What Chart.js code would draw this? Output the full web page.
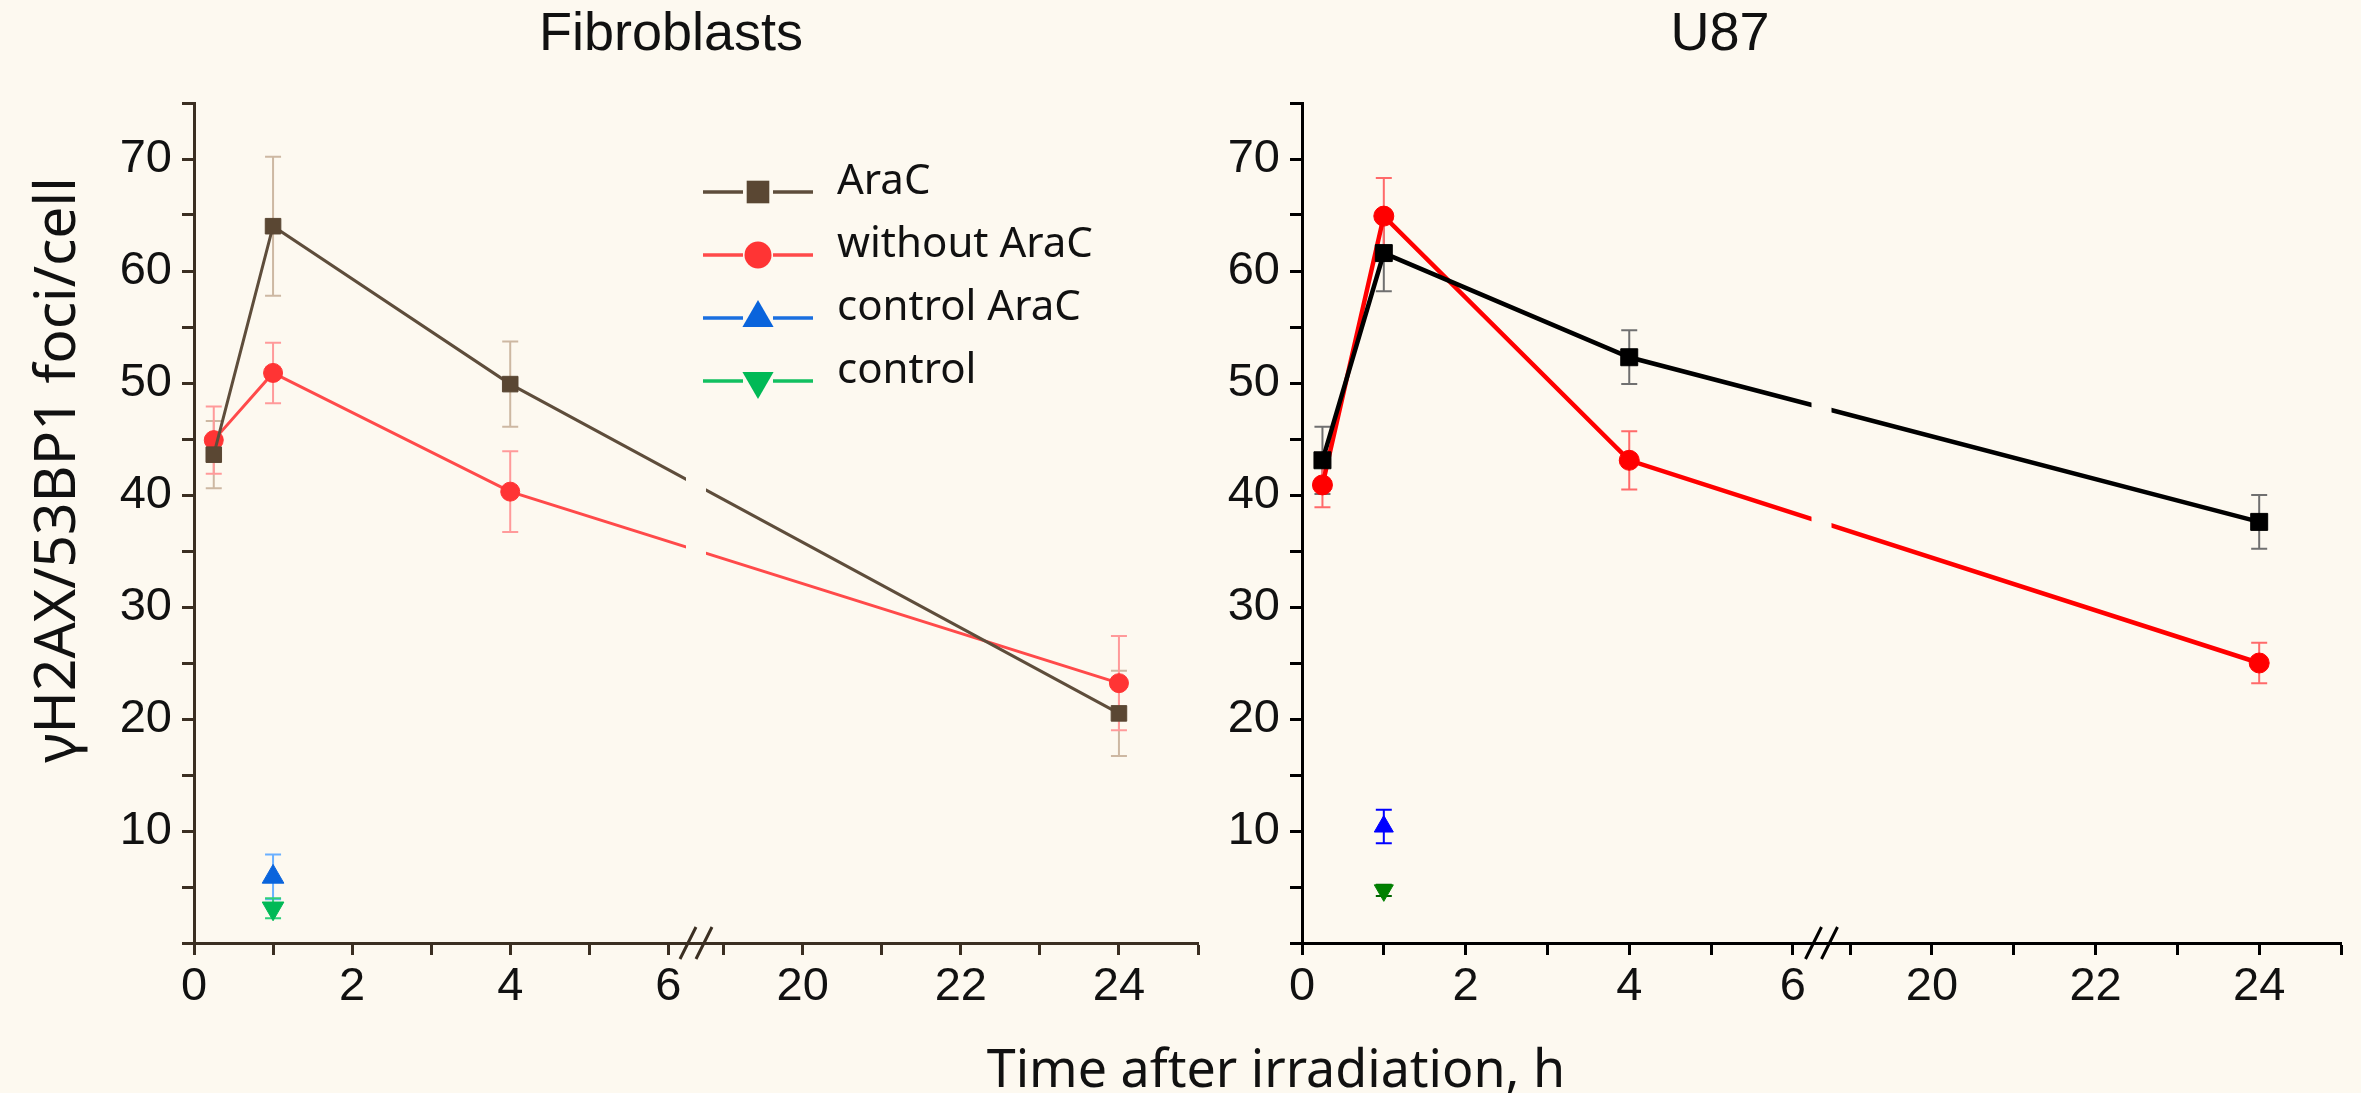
<!DOCTYPE html>
<html>
<head>
<meta charset="utf-8">
<title>γH2AX/53BP1 foci</title>
<script src="https://cdn.jsdelivr.net/npm/chart.js@4.4.1/dist/chart.umd.min.js"></script>
<style>
  body { margin: 0; background: #fdf9f0; width: 2361px; height: 1093px; position: relative; overflow: hidden; }
  canvas { position: absolute; top: 0; }
  #fibro { left: 0; }
  #u87 { left: 1190px; }
  .panel-title { position: absolute; top: 4px; font-family: 'Liberation Sans', Arial, sans-serif; font-size: 54px; line-height: 54px; color: #111; transform: translateX(-50%); white-space: nowrap; }
  .axis-title { position: absolute; font-family: 'Noto Sans', sans-serif; color: #111; white-space: nowrap; }
  #xTitle { left: 1276px; top: 1066px; font-size: 52px; transform: translate(-50%, -50%); }
  #yTitle { left: 53px; top: 470px; font-size: 57px; transform: translate(-50%, -50%) rotate(-90deg); }
</style>
</head>
<body>
<div class="panel-title" style="left:671px">Fibroblasts</div>
<div class="panel-title" style="left:1720px">U87</div>
<div class="axis-title" id="yTitle">γH2AX/53BP1 foci/cell</div>
<div class="axis-title" id="xTitle">Time after irradiation, h</div>
<canvas id="fibro" width="1230" height="1093"></canvas>
<canvas id="u87" width="1171" height="1093"></canvas>
<script>
const BG = '#fdf9f0';

// time points (h)
const hours = [0.25, 1, 4, 24];
const controlHours = [1];

// Fibroblasts
const fibroAraC = [43.6, 64.0, 49.9, 20.5];
const fibroAraCErr = [3.0, 6.2, 3.8, 3.8];
const fibroNoAraC = [44.9, 50.9, 40.3, 23.2];
const fibroNoAraCErr = [3.0, 2.7, 3.6, 4.2];
const fibroControlAraC = [5.9];
const fibroControlAraCErr = [2.0];
const fibroControl = [3.1];
const fibroControlErr = [0.9];

// U87
const u87AraC = [43.1, 61.6, 52.3, 37.6];
const u87AraCErr = [3.0, 3.4, 2.4, 2.4];
const u87NoAraC = [40.9, 64.9, 43.1, 25.0];
const u87NoAraCErr = [2.0, 3.4, 2.6, 1.8];
const u87ControlAraC = [10.4];
const u87ControlAraCErr = [1.5];
const u87Control = [4.7];
const u87ControlErr = [0.5];

const seriesNames = ['AraC', 'without AraC', 'control AraC', 'control'];

// ticks
const xTickHours = [0, 1, 2, 3, 4, 5, 6, 19, 20, 21, 22, 23, 24, 25];
const xTickLabels = ['0', '', '2', '', '4', '', '6', '', '20', '', '22', '', '24', ''];
const yTickValues = [0, 5, 10, 15, 20, 25, 30, 35, 40, 45, 50, 55, 60, 65, 70, 75];
const yTickLabels = ['', '', '10', '', '20', '', '30', '', '40', '', '50', '', '60', '', '70', ''];

// broken x axis: 6.35 .. 18.65 h is cut out
const BREAK_START = 6.35;
const BREAK_END = 18.65;

function toAxis(h) {
    return h > BREAK_START ? h - (BREAK_END - BREAK_START) : h;
}

function points(xs, ys) {
    return xs.map((h, i) => ({ x: toAxis(h), y: ys[i] }));
}

function series(label, xs, ys, errs, st) {
    return {
        label: label,
        data: points(xs, ys),
        errors: errs,
        errorColor: st.err,
        borderColor: st.line,
        backgroundColor: st.fill,
        pointBackgroundColor: st.fill,
        pointBorderColor: st.fill,
        pointBorderWidth: 1,
        pointStyle: st.shape,
        pointRotation: st.rotation || 0,
        pointRadius: st.radius,
        borderWidth: st.width,
        showLine: xs.length > 1
    };
}

// error bars through the chart scales
const errorBars = {
    id: 'errorBars',
    beforeDatasetsDraw(chart) {
        const { ctx, scales: { x, y } } = chart;
        const cap = 8;
        chart.data.datasets.forEach(ds => {
            if (!ds.errors) return;
            ctx.save();
            ctx.strokeStyle = ds.errorColor;
            ctx.lineWidth = 2;
            ds.data.forEach((p, j) => {
                const e = ds.errors[j];
                const px = x.getPixelForValue(p.x);
                const top = y.getPixelForValue(p.y + e);
                const bot = y.getPixelForValue(p.y - e);
                ctx.beginPath();
                ctx.moveTo(px, top); ctx.lineTo(px, bot);
                ctx.moveTo(px - cap, top); ctx.lineTo(px + cap, top);
                ctx.moveTo(px - cap, bot); ctx.lineTo(px + cap, bot);
                ctx.stroke();
            });
            ctx.restore();
        });
    }
};

// gap in the lines and // on the x axis
const axisBreak = {
    id: 'axisBreak',
    afterDatasetsDraw(chart) {
        const { ctx, chartArea, scales: { x } } = chart;
        const c = x.getPixelForValue(BREAK_START);
        ctx.save();
        ctx.fillStyle = BG;
        ctx.fillRect(c - 10, chartArea.top, 20, chartArea.bottom - chartArea.top - 6);
        ctx.restore();
    },
    afterDraw(chart, args, opts) {
        const { ctx, chartArea, scales: { x } } = chart;
        const c = x.getPixelForValue(BREAK_START);
        const b = chartArea.bottom;
        ctx.save();
        ctx.strokeStyle = opts.color;
        ctx.lineWidth = 3;
        ctx.beginPath();
        ctx.moveTo(c - 16, b + 16); ctx.lineTo(c, b - 16);
        ctx.moveTo(c, b + 16); ctx.lineTo(c + 16, b - 16);
        ctx.stroke();
        ctx.restore();
    }
};

// legend with line - marker - line
const lineLegend = {
    id: 'lineLegend',
    afterDraw(chart) {
        const { ctx, chartArea } = chart;
        const x0 = chartArea.left + 509;
        const y0 = chartArea.top + 89;
        const sizes = { rect: 16, circle: 13.5, triangle: 18 };
        chart.data.datasets.forEach((ds, i) => {
            const y = y0 + i * 63;
            ctx.save();
            ctx.strokeStyle = ds.borderColor;
            ctx.lineWidth = 3.5;
            ctx.beginPath();
            ctx.moveTo(x0, y); ctx.lineTo(x0 + 40, y);
            ctx.moveTo(x0 + 70, y); ctx.lineTo(x0 + 110, y);
            ctx.stroke();
            ctx.fillStyle = ds.pointBackgroundColor;
            ctx.strokeStyle = ds.pointBackgroundColor;
            Chart.helpers.drawPoint(ctx, {
                pointStyle: ds.pointStyle,
                rotation: ds.pointRotation,
                radius: sizes[ds.pointStyle],
                borderWidth: 0
            }, x0 + 55, y);
            ctx.fillStyle = '#111';
            ctx.font = '42px "Noto Sans"';
            ctx.textBaseline = 'alphabetic';
            ctx.fillText(ds.label, x0 + 134, y + 2);
            ctx.restore();
        });
    }
};

function makeChart(id, datasets, axisColor, yAxisWidth, padRight, extraPlugins) {
    const tickFont = { family: "'Liberation Sans', Arial, sans-serif", size: 47 };
    return new Chart(document.getElementById(id), {
        type: 'line',
        data: { datasets: datasets },
        options: {
            responsive: false,
            animation: false,
            events: [],
            layout: { padding: { top: 103, right: padRight, bottom: 0, left: 0 } },
            plugins: {
                legend: { display: false },
                tooltip: { enabled: false },
                axisBreak: { color: axisColor }
            },
            scales: {
                x: {
                    type: 'linear',
                    min: 0,
                    max: toAxis(25),
                    afterBuildTicks: s => { s.ticks = xTickHours.map(h => ({ value: toAxis(h) })); },
                    afterFit: s => { s.height = 150; },
                    ticks: {
                        autoSkip: false,
                        maxRotation: 0,
                        padding: 4,
                        color: '#111',
                        font: tickFont,
                        callback: (v, i) => xTickLabels[i]
                    },
                    grid: { drawOnChartArea: false, tickLength: 12, tickWidth: 3, tickColor: axisColor },
                    border: { display: true, color: axisColor, width: 3 }
                },
                y: {
                    min: 0,
                    max: 75,
                    afterBuildTicks: s => { s.ticks = yTickValues.map(v => ({ value: v })); },
                    afterFit: s => { s.width = yAxisWidth; },
                    ticks: {
                        autoSkip: false,
                        padding: 10,
                        color: '#111',
                        font: tickFont,
                        callback: (v, i) => yTickLabels[i]
                    },
                    grid: { drawOnChartArea: false, tickLength: 12, tickWidth: 3, tickColor: axisColor },
                    border: { display: true, color: axisColor, width: 3 }
                }
            }
        },
        plugins: [errorBars, axisBreak].concat(extraPlugins)
    });
}

function draw() {
    makeChart('fibro', [
        series(seriesNames[0], hours, fibroAraC, fibroAraCErr,
            { line: '#5e4d3b', fill: '#5a4733', err: '#cdb8a2', shape: 'rect', radius: 11, width: 3 }),
        series(seriesNames[1], hours, fibroNoAraC, fibroNoAraCErr,
            { line: '#ff4a4a', fill: '#ff3434', err: '#ff9a9a', shape: 'circle', radius: 9.5, width: 3 }),
        series(seriesNames[2], controlHours, fibroControlAraC, fibroControlAraCErr,
            { line: '#1a6fe0', fill: '#0a64dc', err: '#6ab0ff', shape: 'triangle', radius: 12.5, width: 3 }),
        series(seriesNames[3], controlHours, fibroControl, fibroControlErr,
            { line: '#12c060', fill: '#00b956', err: '#2fd07a', shape: 'triangle', rotation: 180, radius: 12.5, width: 3 })
    ], '#3b2f22', 194, 32, [lineLegend]);

    makeChart('u87', [
        series(seriesNames[0], hours, u87AraC, u87AraCErr,
            { line: '#000000', fill: '#000000', err: '#707070', shape: 'rect', radius: 12, width: 4.5 }),
        series(seriesNames[1], hours, u87NoAraC, u87NoAraCErr,
            { line: '#ff0000', fill: '#ff0000', err: '#ff6a6a', shape: 'circle', radius: 10, width: 4.5 }),
        series(seriesNames[2], controlHours, u87ControlAraC, u87ControlAraCErr,
            { line: '#0000ff', fill: '#0000ff', err: '#0000ff', shape: 'triangle', radius: 11, width: 4.5 }),
        series(seriesNames[3], controlHours, u87Control, u87ControlErr,
            { line: '#008000', fill: '#008000', err: '#006400', shape: 'triangle', rotation: 180, radius: 11, width: 4.5 })
    ], '#000000', 112, 20, []);
}

document.fonts.load('42px "Noto Sans"').then(draw, draw);
</script>
</body>
</html>
